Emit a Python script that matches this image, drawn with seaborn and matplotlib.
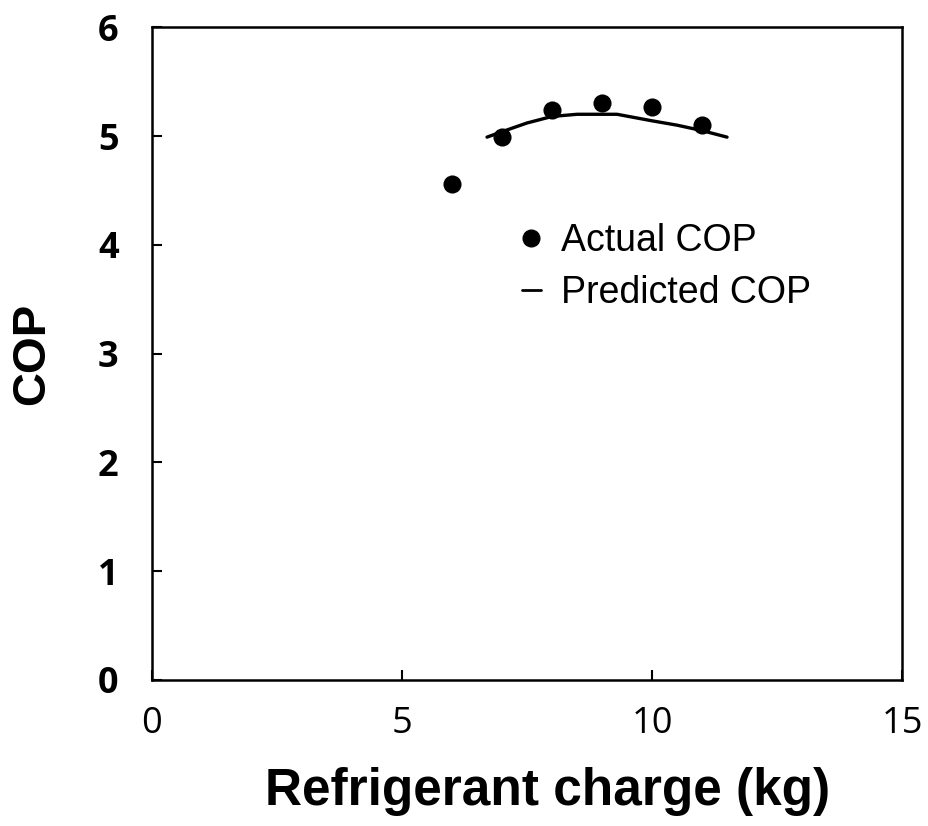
import matplotlib
matplotlib.use("Agg")
import matplotlib.pyplot as plt
import seaborn as sns
import pandas as pd
from matplotlib.lines import Line2D

sns.set_theme(style="white")
plt.rcParams['font.family'] = ['Liberation Sans', 'DejaVu Sans']
plt.rcParams['text.color'] = 'black'
plt.rcParams['axes.labelcolor'] = 'black'
plt.rcParams['xtick.color'] = 'black'
plt.rcParams['ytick.color'] = 'black'

# Data
actual_charge = [6, 7, 8, 9, 10, 11]
actual_cop = [4.56, 4.99, 5.24, 5.30, 5.27, 5.10]
pred_charge = [6.7, 7.0, 7.5, 8.0, 8.5, 9.0, 9.3, 10.0, 10.5, 11.0, 11.5]
pred_cop = [4.99, 5.04, 5.12, 5.18, 5.20, 5.20, 5.20, 5.14, 5.10, 5.05, 4.99]
x_ticks = [0, 5, 10, 15]
y_ticks = [0, 1, 2, 3, 4, 5, 6]

df_a = pd.DataFrame({"x": actual_charge, "y": actual_cop})
df_p = pd.DataFrame({"x": pred_charge, "y": pred_cop})

fig = plt.figure(figsize=(9.29, 8.26), dpi=100)
ax = fig.add_axes([0.1636, 0.1768, 0.971 - 0.1636, 0.967 - 0.1768])

sns.lineplot(data=df_p, x="x", y="y", ax=ax, color="black", linewidth=2.4, sort=True)
sns.scatterplot(data=df_a, x="x", y="y", ax=ax, color="black", s=170, edgecolor="black", linewidth=0, zorder=3)

ax.set_xlim(0, 15)
ax.set_ylim(0, 6)
ax.set_xticks(x_ticks)
ax.set_yticks(y_ticks)
ax.set_xticklabels([str(v) for v in x_ticks], fontsize=26, family='Open Sans')
ax.set_yticklabels([str(v) for v in y_ticks], fontsize=26, family='Open Sans', fontweight='bold')
ax.tick_params(axis='both', direction='in', length=7, width=1.5, color='black',
               left=True, bottom=True, top=False, right=False)
ax.tick_params(axis='x', pad=19)
ax.tick_params(axis='y', pad=24)
for s in ax.spines.values():
    s.set_visible(True)
    s.set_color('black')
    s.set_linewidth(1.8)

ax.set_xlabel("Refrigerant charge (kg)", fontsize=37, fontweight='bold')
ax.set_ylabel("COP", fontsize=34, fontweight='bold')
ax.xaxis.set_label_coords(0.527, -0.134)
ax.yaxis.set_label_coords(-0.13, 0.5)

handles = [
    Line2D([], [], marker='o', color='black', linestyle='None', markersize=12),
    Line2D([], [], color='black', linewidth=2.0),
]
ax.legend(handles, ["Actual COP", "Predicted COP"], loc='upper left',
          bbox_to_anchor=(0.448, 0.752), frameon=False, fontsize=27,
          handlelength=0.5, handletextpad=0.55, labelspacing=0.42)

fig.savefig("out.png", dpi=100)
